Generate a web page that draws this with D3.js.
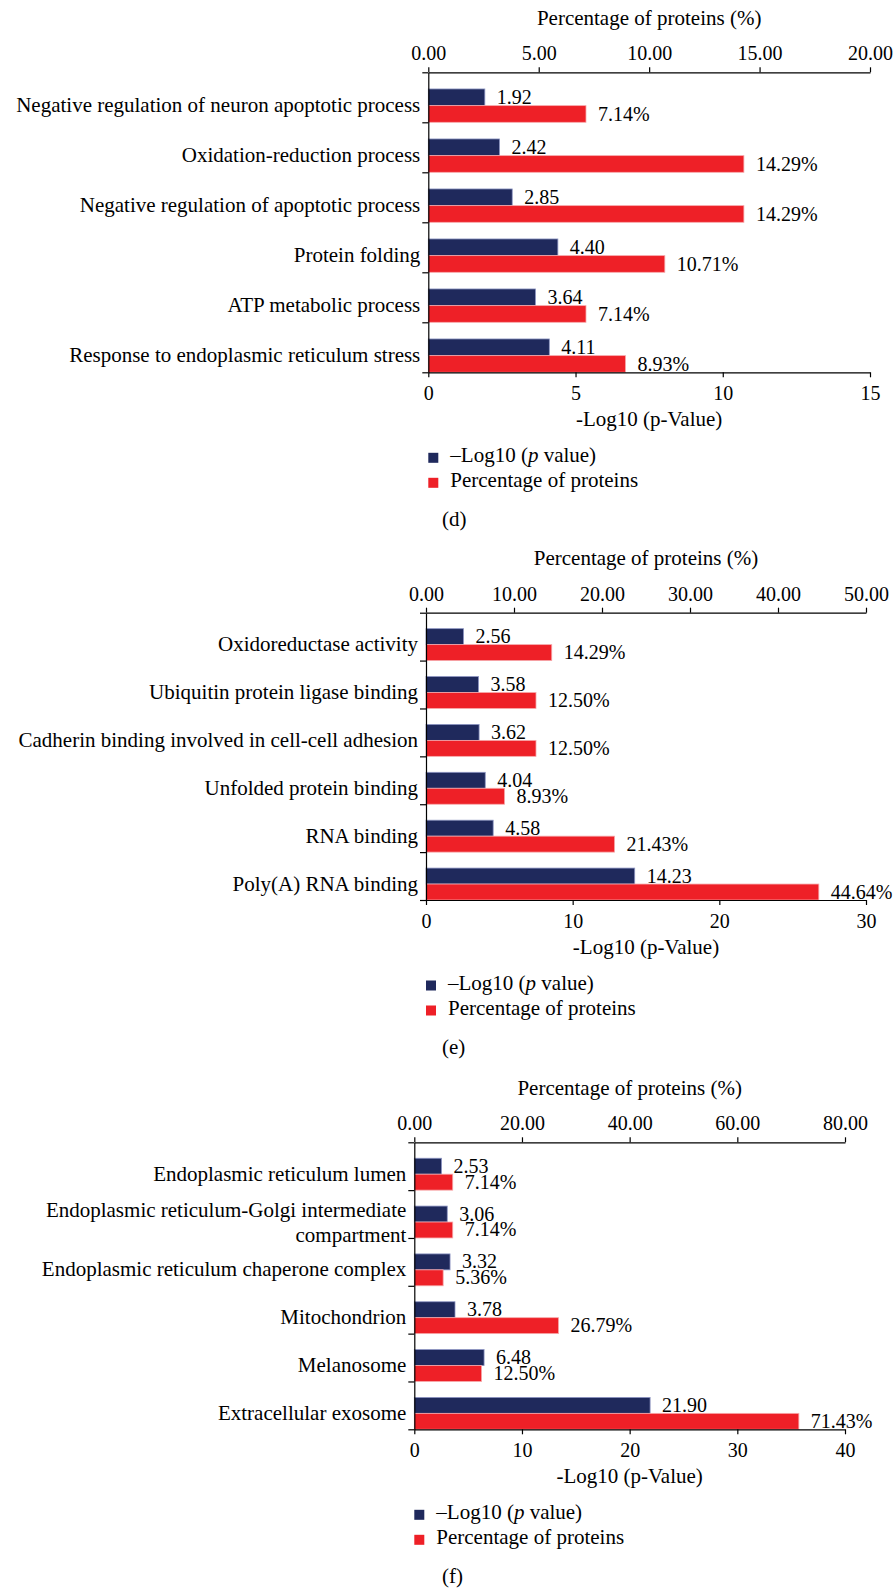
<!DOCTYPE html>
<html>
<head>
<meta charset="utf-8">
<script src="https://cdnjs.cloudflare.com/ajax/libs/d3/7.8.5/d3.min.js"></script>
<style>
  body { margin: 0; background: #fff; }
  svg { display: block; }
</style>
</head>
<body>
<div class="canvas"></div>
<script>
// DATA
// (d) biological process
const catsD = [
  'Negative regulation of neuron apoptotic process',
  'Oxidation-reduction process',
  'Negative regulation of apoptotic process',
  'Protein folding',
  'ATP metabolic process',
  'Response to endoplasmic reticulum stress'
];
const logD = [1.92, 2.42, 2.85, 4.40, 3.64, 4.11];
const pctD = [7.14, 14.29, 14.29, 10.71, 7.14, 8.93];
const logTicksD = [0, 5, 10, 15];
const pctTicksD = [0, 5, 10, 15, 20];

// (e) molecular function
const catsE = [
  'Oxidoreductase activity',
  'Ubiquitin protein ligase binding',
  'Cadherin binding involved in cell-cell adhesion',
  'Unfolded protein binding',
  'RNA binding',
  'Poly(A) RNA binding'
];
const logE = [2.56, 3.58, 3.62, 4.04, 4.58, 14.23];
const pctE = [14.29, 12.50, 12.50, 8.93, 21.43, 44.64];
const logTicksE = [0, 10, 20, 30];
const pctTicksE = [0, 10, 20, 30, 40, 50];

// (f) cellular component
const catsF = [
  'Endoplasmic reticulum lumen',
  'Endoplasmic reticulum-Golgi intermediate\ncompartment',
  'Endoplasmic reticulum chaperone complex',
  'Mitochondrion',
  'Melanosome',
  'Extracellular exosome'
];
const logF = [2.53, 3.06, 3.32, 3.78, 6.48, 21.90];
const pctF = [7.14, 7.14, 5.36, 26.79, 12.50, 71.43];
const logTicksF = [0, 10, 20, 30, 40];
const pctTicksF = [0, 20, 40, 60, 80];

const legendLabels = ['\u2013Log10 (', 'Percentage of proteins'];

/*** SETUP ***/
const svgWidth = 895;
const svgHeight = 1589;
const font = '"Liberation Serif", "Times New Roman", serif';
const fs = 21;      // words
const fsNum = 20;   // numbers
const blue = '#1f295c';
const red = '#ee2027';

const svg = d3.select('.canvas')
  .append('svg')
  .attr('width', svgWidth)
  .attr('height', svgHeight)
  .attr('font-family', font);

const drawPanel = (p) => {
  const g = svg.append('g');

  //bottom axis = -log10 p, top axis = percentage
  const xLog = d3.scaleLinear()
    .domain([0, d3.max(p.logTicks)])
    .range([p.left, p.right]);
  const xPct = d3.scaleLinear()
    .domain([0, d3.max(p.pctTicks)])
    .range([p.left, p.right]);

  const y = d3.scaleBand()
    .domain(p.cats)
    .range([p.top, p.bottom]);
  const bw = y.bandwidth();

  //only used for the little ticks between categories
  const yTick = d3.scaleLinear()
    .domain([0, p.cats.length])
    .range([p.top, p.bottom]);

  // bars (bottom two thirds of each band)
  g.selectAll('rect.log')
    .data(p.log)
    .enter()
    .append('rect')
      .attr('class', 'log')
      .attr('x', p.left)
      .attr('y', (d, i) => y(p.cats[i]) + bw / 3)
      .attr('width', d => xLog(d) - p.left)
      .attr('height', bw / 3)
      .attr('fill', blue)
      .attr('stroke', '#8d95c2')
      .attr('stroke-width', 0.8);

  g.selectAll('rect.pct')
    .data(p.pct)
    .enter()
    .append('rect')
      .attr('class', 'pct')
      .attr('x', p.left)
      .attr('y', (d, i) => y(p.cats[i]) + bw * 2 / 3)
      .attr('width', d => xPct(d) - p.left)
      .attr('height', bw / 3)
      .attr('fill', red)
      .attr('stroke', '#f7a9ab')
      .attr('stroke-width', 0.8);

  // value labels
  g.selectAll('text.logval')
    .data(p.log)
    .enter()
    .append('text')
      .attr('x', d => xLog(d) + 12)
      .attr('y', (d, i) => y(p.cats[i]) + bw * 2 / 3 - 1.5)
      .attr('font-size', fsNum)
      .text(d => d3.format('.2f')(d));

  g.selectAll('text.pctval')
    .data(p.pct)
    .enter()
    .append('text')
      .attr('x', d => xPct(d) + 12)
      .attr('y', (d, i) => y(p.cats[i]) + bw - 1.5)
      .attr('font-size', fsNum)
      .text(d => d3.format('.2f')(d) + '%');

  // axes
  const topAxis = g.append('g')
    .attr('transform', `translate(0, ${p.top})`)
    .call(d3.axisTop(xPct).tickValues(p.pctTicks).tickFormat(d3.format('.2f'))
      .tickSize(5).tickSizeOuter(0).tickPadding(7));
  const bottomAxis = g.append('g')
    .attr('transform', `translate(0, ${p.bottom})`)
    .call(d3.axisBottom(xLog).tickValues(p.logTicks).tickFormat(d3.format('d'))
      .tickSize(5).tickSizeOuter(0).tickPadding(9));
  const leftAxis = g.append('g')
    .attr('transform', `translate(${p.left}, 0)`)
    .call(d3.axisLeft(yTick).tickValues(d3.range(p.cats.length + 1)).tickFormat('')
      .tickSize(6).tickSizeOuter(0));

  [topAxis, bottomAxis, leftAxis].forEach(a => {
    a.attr('font-family', font).attr('font-size', fsNum);
    a.selectAll('path, line').attr('stroke', '#000').attr('stroke-width', 1.2);
    a.selectAll('text').attr('fill', '#000');
  });

  // category labels, centred on the bar pair
  const labels = g.selectAll('text.cat')
    .data(p.cats)
    .enter()
    .append('text')
      .attr('text-anchor', 'end')
      .attr('font-size', fs)
      .attr('x', p.left - 8)
      .attr('y', d => y(d) + bw * 2 / 3);
  labels.each(function(d) {
    const lines = d.split('\n');
    const el = d3.select(this);
    lines.forEach((l, k) => {
      let dy = 6.6;
      if (lines.length > 1) dy = k === 0 ? -4.7 : 24.4;
      el.append('tspan')
        .attr('x', p.left - 8)
        .attr('dy', dy)
        .text(l);
    });
  });

  // axis titles
  const mid = (p.left + p.right) / 2;
  g.append('text')
    .attr('x', mid)
    .attr('y', p.top - 47.5)
    .attr('text-anchor', 'middle')
    .attr('font-size', fs)
    .text('Percentage of proteins (%)');
  g.append('text')
    .attr('x', mid)
    .attr('y', p.bottom + 54)
    .attr('text-anchor', 'middle')
    .attr('font-size', fs)
    .text('-Log10 (p-Value)');

  // legend
  const leg = g.append('g')
    .attr('transform', `translate(${p.left}, ${p.bottom + 80.5})`);
  [blue, red].forEach((c, i) => {
    leg.append('rect')
      .attr('x', 0)
      .attr('y', i * 25)
      .attr('width', 10)
      .attr('height', 10)
      .attr('fill', c);
  });
  const t1 = leg.append('text')
    .attr('x', 22)
    .attr('y', 9.5)
    .attr('font-size', fs);
  t1.append('tspan').text(legendLabels[0]);
  t1.append('tspan').attr('font-style', 'italic').text('p');
  t1.append('tspan').text(' value)');
  leg.append('text')
    .attr('x', 22)
    .attr('y', 34.5)
    .attr('font-size', fs)
    .text(legendLabels[1]);

  // panel letter
  g.append('text')
    .attr('x', 442)
    .attr('y', p.bottom + 154)
    .attr('font-size', fs)
    .text(p.letter);
};

drawPanel({ cats: catsD, log: logD, pct: pctD, logTicks: logTicksD, pctTicks: pctTicksD,
  top: 72.3, bottom: 372.3, left: 428.3, right: 870, letter: '(d)' });
drawPanel({ cats: catsE, log: logE, pct: pctE, logTicks: logTicksE, pctTicks: pctTicksE,
  top: 612.7, bottom: 900, left: 426, right: 866, letter: '(e)' });
drawPanel({ cats: catsF, log: logF, pct: pctF, logTicks: logTicksF, pctTicks: pctTicksF,
  top: 1142.3, bottom: 1429.3, left: 414.3, right: 845, letter: '(f)' });
</script>
</body>
</html>
